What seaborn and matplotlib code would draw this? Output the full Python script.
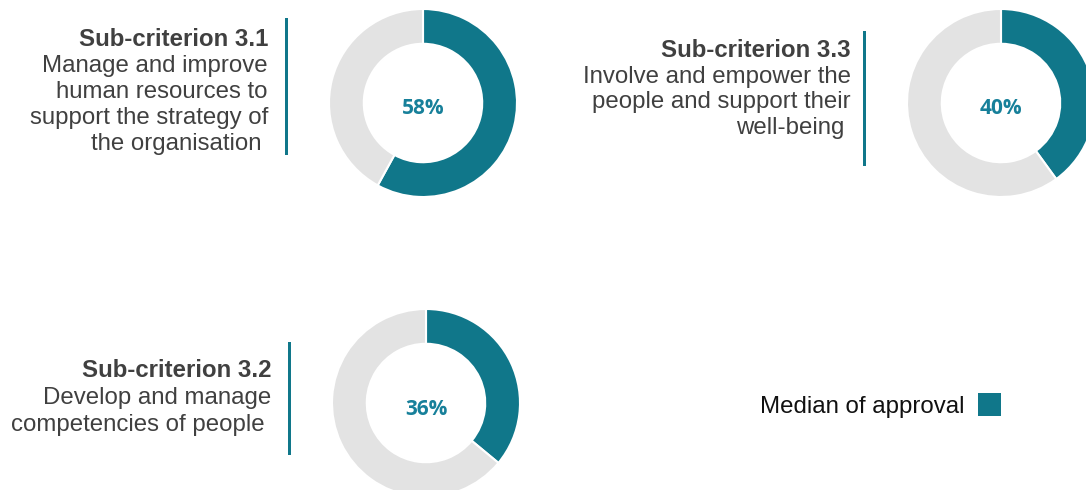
import matplotlib
matplotlib.use("Agg")
import matplotlib.pyplot as plt
from matplotlib.patches import Rectangle
import seaborn as sns

# Approval medians per sub-criterion
criteria = ["Sub-criterion 3.1", "Sub-criterion 3.3", "Sub-criterion 3.2"]
descriptions = [
    ["Manage and improve", "human resources to", "support the strategy of", "the organisation "],
    ["Involve and empower the", "people and support their", "well-being "],
    ["Develop and manage", "competencies of people "],
]
approval = [58, 40, 36]
legend_label = "Median of approval"

sns.set_theme(style="white")
plt.rcParams["font.family"] = ["Liberation Sans", "DejaVu Sans"]

teal = "#10778A"
grey = "#E3E3E3"
text_dark = "#404040"

W, H = 1086, 490
fig = plt.figure(figsize=(W / 100, H / 100), dpi=100)
fig.patch.set_facecolor("white")

# panel layout: donut centre, radius, text right edge, first baseline,
# line step, accent bar x and vertical span
panels = [
    dict(cx=423, cy=103, r=94, tx=268, y0=46, step=26.0, bx=285, by=(18, 155)),
    dict(cx=1001, cy=103, r=94, tx=851, y0=57, step=25.7, bx=863, by=(31, 166)),
    dict(cx=426, cy=403, r=94, tx=271, y0=377, step=27.0, bx=288, by=(342, 455)),
]
fs = 17.3


def fy(y):
    return (H - y) / H


for title, desc, val, p in zip(criteria, descriptions, approval, panels):
    ax = fig.add_axes([(p["cx"] - p["r"]) / W, (H - p["cy"] - p["r"]) / H,
                       2 * p["r"] / W, 2 * p["r"] / H])
    ax.pie([val, 100 - val], colors=[teal, grey], startangle=90,
           counterclock=False, radius=1.0,
           wedgeprops=dict(width=0.37, edgecolor="white", linewidth=1.5))
    ax.set_xlim(-1, 1)
    ax.set_ylim(-1, 1)
    ax.set_aspect("equal")
    ax.axis("off")
    fig.text(p["cx"] / W, fy(p["cy"] + 11.5), f"{val}%", ha="center",
             va="baseline", color="#17809A", fontsize=15, fontweight="bold",
             family=["Open Sans", "DejaVu Sans"])

    fig.text(p["tx"] / W, fy(p["y0"]), title, ha="right", va="baseline",
             fontsize=fs, fontweight="bold", color=text_dark)
    for i, line in enumerate(desc, start=1):
        fig.text(p["tx"] / W, fy(p["y0"] + i * p["step"]), line, ha="right",
                 va="baseline", fontsize=fs, color=text_dark)
    fig.add_artist(Rectangle((p["bx"] / W, fy(p["by"][1])), 3 / W,
                             (p["by"][1] - p["by"][0]) / H,
                             transform=fig.transFigure, color=teal, lw=0))

# legend entry
fig.text(760 / W, fy(413), legend_label, ha="left", va="baseline",
         fontsize=fs, color="#111111")
fig.add_artist(Rectangle((978 / W, fy(416)), 23 / W, 23 / H,
                         transform=fig.transFigure, color=teal, lw=0))

fig.savefig("out.png", dpi=100)
